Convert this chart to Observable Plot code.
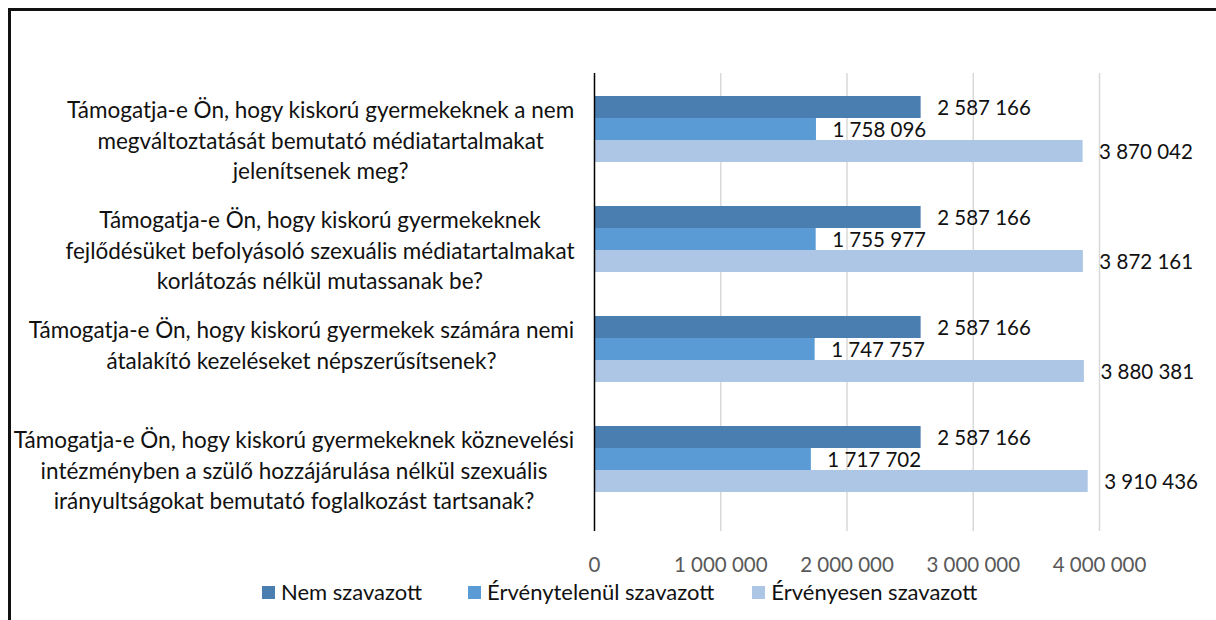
<!DOCTYPE html>
<html>
<head>
<meta charset="utf-8">
<script src="https://cdn.jsdelivr.net/npm/d3@7"></script>
<script src="https://cdn.jsdelivr.net/npm/@observablehq/plot@0.6"></script>
<style>
  html, body { margin: 0; padding: 0; background: #fff; }
  #wrap { position: relative; width: 1216px; height: 620px; overflow: hidden; font-family: Lato, "Open Sans", sans-serif; background: #fff; }
  #frame { position: absolute; left: 8px; top: 8px; width: 1400px; height: 800px; border-top: 3px solid #111; border-left: 3px solid #111; box-sizing: border-box; }
  #chart { position: absolute; left: 0; top: 0; }
  #legend { position: absolute; top: 578px; left: 262px; display: flex; align-items: center; font-size: 22px; color: #111; line-height: 28px; white-space: nowrap; }
  .item { display: flex; align-items: center; }
  .sw { width: 13px; height: 13px; margin-right: 6px; }
</style>
</head>
<body>
<div id="wrap">
  <div id="frame"></div>
  <div id="chart"></div>
  <div id="legend"></div>
</div>
<script>
// ---- data ----
const questions = [
  "Támogatja-e Ön, hogy kiskorú gyermekeknek a nem\nmegváltoztatását bemutató médiatartalmakat\njelenítsenek meg?",
  "Támogatja-e Ön, hogy kiskorú gyermekeknek\nfejlődésüket befolyásoló szexuális médiatartalmakat\nkorlátozás nélkül mutassanak be?",
  "Támogatja-e Ön, hogy kiskorú gyermekek számára nemi\nátalakító kezeléseket népszerűsítsenek?",
  "Támogatja-e Ön, hogy kiskorú gyermekeknek köznevelési\nintézményben a szülő hozzájárulása nélkül szexuális\nirányultságokat bemutató foglalkozást tartsanak?"
];
const series = ["Nem szavazott", "Érvénytelenül szavazott", "Érvényesen szavazott"];
const nemSzavazott = [2587166, 2587166, 2587166, 2587166];
const ervenytelenul = [1758096, 1755977, 1747757, 1717702];
const ervenyesen = [3870042, 3872161, 3880381, 3910436];
const xTicks = [0, 1000000, 2000000, 3000000, 4000000];
const colors = ["#4a7eb0", "#5b9bd5", "#adc6e6"];

// ---- build table ----
const valuesBySeries = [nemSzavazott, ervenytelenul, ervenyesen];
const rows = [];
const yDomain = [];
questions.forEach((q, qi) => {
  if (qi > 0) yDomain.push(`${qi}|a`);
  series.forEach((s, si) => {
    const key = `${qi}|${si}`;
    yDomain.push(key);
    rows.push({ key, question: q, series: s, value: valuesBySeries[si][qi] });
  });
  yDomain.push(`${qi}|b`);
});

const fmt = d3.formatLocale({ decimal: ",", thousands: " ", grouping: [3], currency: ["", ""] }).format(",d");

const TEXT_FONT = 22.5;
const NUM_FONT = 20.5;
const ctx = document.createElement("canvas").getContext("2d");
ctx.font = `${TEXT_FONT}px Lato`;
const labelGap = 20;

const labelMarks = questions.map((q, qi) => {
  const w = Math.max(...q.split("\n").map(l => ctx.measureText(l).width));
  return Plot.text([q], {
    y: () => `${qi}|1`,
    text: d => d,
    frameAnchor: "left",
    textAnchor: "middle",
    lineAnchor: "top",
    lineHeight: 1.36,
    dx: -(labelGap + w / 2),
    dy: -33,
    fontSize: TEXT_FONT,
    fill: "#111"
  });
});

const chart = Plot.plot({
  width: 1216,
  height: 580,
  marginLeft: 594,
  marginRight: 117,
  marginTop: 73,
  marginBottom: 49,
  style: { fontFamily: "Lato, 'Open Sans', sans-serif", background: "transparent" },
  x: { domain: [0, 4000000] },
  y: { domain: yDomain, paddingInner: 0, paddingOuter: 0.86, align: 0.57, axis: null },
  color: { domain: series, range: colors },
  marks: [
    Plot.ruleX(xTicks.slice(1), { stroke: "#d9d9d9", strokeWidth: 1.5 }),
    Plot.barX(rows, { x: "value", y: "key", fill: "series" }),
    Plot.ruleX([0], { stroke: "#000", strokeWidth: 1.5 }),
    Plot.text(rows, {
      x: "value", y: "key", text: d => fmt(d.value),
      textAnchor: "start", dx: 16, dy: 1, fontSize: NUM_FONT, fill: "#111"
    }),
    ...labelMarks,
    Plot.axisX({
      ticks: xTicks, tickFormat: fmt, tickSize: 0, tickPadding: 26,
      fontSize: NUM_FONT, color: "#595959", label: null
    })
  ]
});
document.getElementById("chart").appendChild(chart);

// ---- legend ----
const legend = document.getElementById("legend");
const gaps = [46, 38, 0];
series.forEach((s, i) => {
  const item = document.createElement("div");
  item.className = "item";
  item.style.marginRight = gaps[i] + "px";
  const sw = document.createElement("span");
  sw.className = "sw";
  sw.style.background = colors[i];
  const t = document.createElement("span");
  t.textContent = s;
  item.appendChild(sw);
  item.appendChild(t);
  legend.appendChild(item);
});
</script>
</body>
</html>
